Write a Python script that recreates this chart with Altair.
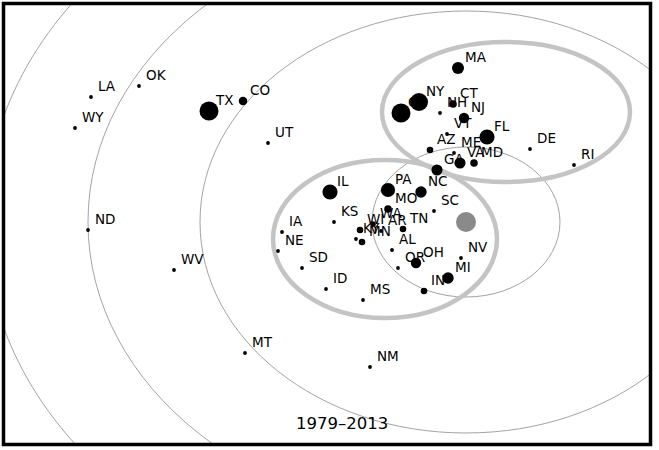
import altair as alt
import pandas as pd

# ---- data (x to the right, y downward) ----
states = ["LA", "OK", "WY", "TX", "CO", "UT", "ND", "WV", "MT", "NM",
          "IA", "NE", "SD", "ID", "MS", "KS", "IL", "PA", "NC", "MO",
          "SC", "AL", "OR", "OH", "NV", "MI", "IN", "WI", "WA", "KY",
          "MN", "AR", "TN", "MA", "NY", "CA", "CT", "NH", "NJ", "VT",
          "AZ", "FL", "ME", "DE", "RI", "VA", "MD", "GA"]
x_vals = [91, 139, 75, 209, 243, 268, 88, 174, 245, 370,
          282, 278, 302, 326, 363, 334, 330, 388, 421, 388,
          434, 392, 398, 416, 461, 448, 424, 360, 373, 356,
          362, 381, 403, 458, 419, 401, 453, 440, 464, 447,
          430, 487, 454, 530, 574, 460, 474, 437]
y_vals = [97, 86, 128, 111, 101, 143, 230, 270, 353, 367,
          232, 251, 268, 289, 300, 222, 192, 190, 192, 209,
          211, 250, 268, 263, 258, 278, 291, 230, 224, 239,
          242, 231, 229, 68, 102, 113, 104, 113, 118, 134,
          150, 137, 153, 149, 165, 163, 163, 170]
weights = [4, 4, 4, 100, 20, 4, 4, 4, 4, 4,
           4, 4, 4, 4, 4, 4, 64, 56, 36, 16,
           4, 4, 4, 30, 4, 36, 12, 12, 9, 4,
           12, 4, 12, 40, 90, 100, 16, 4, 30, 4,
           12, 64, 4, 4, 4, 34, 16, 34]

center_x = [466]
center_y = [222]
ring_rx = [94, 266, 378, 481]
ring_ry = [75, 211, 299, 381]

cluster_cx = [506, 385]
cluster_cy = [112, 239]
cluster_rx = [124, 112]
cluster_ry = [70, 79]

period_label = ["1979–2013"]
period_x = [342]
period_y = [424]

# ---- layout ----
W, H = 647, 441
X0, X1 = 3.5, 650.5
Y0, Y1 = 3.5, 444.5
px_x = W / (X1 - X0)
px_y = H / (Y1 - Y0)

xs = alt.Scale(domain=[X0, X1], nice=False, zero=False)
ys = alt.Scale(domain=[Y0, Y1], nice=False, zero=False, reverse=True)


def ellipse_path(k):
    c = 0.5523
    return (f"M 1 0 C 1 {k*c:.4f} {c} {k:.4f} 0 {k:.4f} "
            f"C {-c} {k:.4f} -1 {k*c:.4f} -1 0 "
            f"C -1 {-k*c:.4f} {-c} {-k:.4f} 0 {-k:.4f} "
            f"C {c} {-k:.4f} 1 {-k*c:.4f} 1 0 Z")


def ellipse_frame(cx, cy, rx, ry):
    rows = []
    for a, b, r1, r2 in zip(cx, cy, rx, ry):
        rxp, ryp = r1 * px_x, r2 * px_y
        rows.append({"x": a, "y": b, "path": ellipse_path(ryp / rxp),
                     "size": (2 * rxp) ** 2})
    return pd.DataFrame(rows)


rings = ellipse_frame(center_x * len(ring_rx), center_y * len(ring_rx),
                      ring_rx, ring_ry)
clusters = ellipse_frame(cluster_cx, cluster_cy, cluster_rx, cluster_ry)

pts = pd.DataFrame({"state": states, "x": x_vals, "y": y_vals, "w": weights})
ctr = pd.DataFrame({"x": center_x, "y": center_y})
per = pd.DataFrame({"label": period_label, "x": period_x, "y": period_y})

X = alt.X("x:Q", scale=xs, axis=None)
Y = alt.Y("y:Q", scale=ys, axis=None)

ring_layer = alt.Chart(rings).mark_point(
    filled=False, clip=True, opacity=1, strokeWidth=1, color="#a3a3a3"
).encode(x=X, y=Y, shape=alt.Shape("path:N", scale=None),
         size=alt.Size("size:Q", scale=None))

cluster_layer = alt.Chart(clusters).mark_point(
    filled=False, clip=True, opacity=1, strokeWidth=4.5, color="#c4c4c4"
).encode(x=X, y=Y, shape=alt.Shape("path:N", scale=None),
         size=alt.Size("size:Q", scale=None))

labels = alt.Chart(pts).mark_text(
    align="left", baseline="middle", dx=7, dy=-10,
    font="DejaVu Sans", fontSize=13.5, color="black", clip=True
).encode(x=X, y=Y, text="state:N")

dots = alt.Chart(pts).mark_circle(color="black", opacity=1).encode(
    x=X, y=Y,
    size=alt.Size("w:Q", scale=alt.Scale(domain=[0, 100], range=[0, 360]),
                  legend=None))

center = alt.Chart(ctr).mark_circle(color="#8a8a8a", opacity=1, size=400).encode(
    x=X, y=Y)

period = alt.Chart(per).mark_text(
    align="center", baseline="middle", font="DejaVu Sans", fontSize=16.5,
    color="black"
).encode(x=X, y=Y, text="label:N")

frame = alt.Chart(per).mark_rect(
    fillOpacity=0, stroke="black", strokeWidth=3.5
).encode(x=alt.value(0), x2=alt.value(W), y=alt.value(0), y2=alt.value(H))

chart = alt.layer(
    ring_layer, cluster_layer, labels, dots, center, period, frame
).properties(
    width=W, height=H,
    padding={"left": 3.5, "top": 3.5, "right": 659 - 3.5 - W, "bottom": 450 - 3.5 - H},
    autosize=alt.AutoSizeParams(type="none"),
    background="white",
).configure_view(stroke=None)

chart.save("out.html", embed_options={"renderer": "svg", "actions": False})
